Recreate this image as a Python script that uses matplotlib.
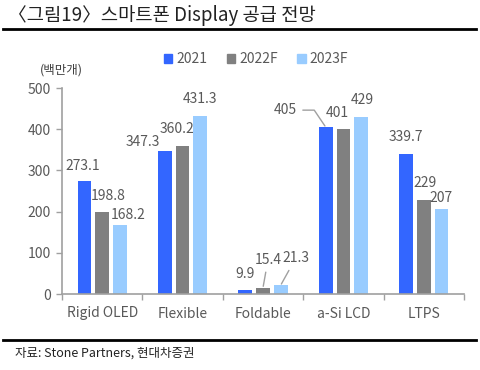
import numpy as np
import matplotlib.pyplot as plt
from matplotlib.patches import Patch
from matplotlib.lines import Line2D

plt.rcParams['font.family'] = ['Noto Sans CJK KR', 'DejaVu Sans']

categories = ['Rigid OLED', 'Flexible', 'Foldable', 'a-Si LCD', 'LTPS']
series_names = ['2021', '2022F', '2023F']
v2021 = [273.1, 347.3, 9.9, 405, 339.7]
v2022 = [198.8, 360.2, 15.4, 401, 229]
v2023 = [168.2, 431.3, 21.3, 429, 207]
label_2021 = ['273.1', '347.3', '9.9', '405', '339.7']
label_2022 = ['198.8', '360.2', '15.4', '401', '229']
label_2023 = ['168.2', '431.3', '21.3', '429', '207']

colors = ['#3366FF', '#808080', '#99CCFF']
axis_gray = '#A0A0A0'
text_gray = '#595959'

# label offsets in pixels (dx, dy) from bar top centre, as placed in the original
offsets = [
    [(-2, 15), (-22, 9), (0, 16), (-40, 17), (0, 17)],
    [(6, 16), (-6, 17), (5, 28), (-6, 16), (1, 17)],
    [(8, 10), (0, 17), (15, 27), (1, 17), (0, 11)],
]
leaders = {(0, 3): 'angle', (1, 2): 'line', (2, 2): 'line'}

fig = plt.figure(figsize=(4.81, 3.70), dpi=100)
ax = fig.add_axes([62 / 481, 1 - 294 / 370, (464 - 62) / 481, (294 - 88) / 370])

x = np.arange(len(categories))
w = 0.17
step = 0.22
all_vals = [v2021, v2022, v2023]
all_labels = [label_2021, label_2022, label_2023]
for i, (vals, labs) in enumerate(zip(all_vals, all_labels)):
    xs = x + (i - 1) * step
    ax.bar(xs, vals, width=w, color=colors[i], zorder=2)
    for j in range(len(vals)):
        dx, dy = offsets[i][j]
        kw = {}
        if (i, j) in leaders:
            if leaders[(i, j)] == 'angle':
                cs = 'angle,angleA=0,angleB=124,rad=0'
            else:
                cs = 'arc3'
            kw['arrowprops'] = dict(arrowstyle='-', color=axis_gray, lw=1,
                                    connectionstyle=cs, shrinkA=2, shrinkB=1)
        ax.annotate(labs[j], xy=(xs[j], vals[j]), xytext=(dx, dy),
                    textcoords='offset pixels', ha='center', va='center',
                    fontsize=10, color=text_gray, **kw)

ax.set_ylim(0, 500)
ax.set_xlim(-0.5, 4.5)
ax.set_yticks([0, 100, 200, 300, 400, 500])
ax.set_xticks(x)
ax.set_xticklabels(categories)
ax.set_xticks(np.arange(-0.5, 5, 1), minor=True)
ax.tick_params(axis='x', which='major', length=0, pad=9, labelsize=10, labelcolor=text_gray)
ax.tick_params(axis='x', which='minor', length=4, color=axis_gray, width=1)
ax.tick_params(axis='y', length=4, color=axis_gray, width=1, pad=4,
               labelsize=10, labelcolor=text_gray)
for s in ['top', 'right']:
    ax.spines[s].set_visible(False)
for s in ['left', 'bottom']:
    ax.spines[s].set_color(axis_gray)
    ax.spines[s].set_linewidth(1.2)

handles = [Patch(color=c) for c in colors]
fig.legend(handles, series_names, loc='center', bbox_to_anchor=(256 / 481, 1 - 59 / 370),
           ncol=3, frameon=False, fontsize=10, handlelength=0.6, handleheight=0.6,
           handletextpad=0.3, columnspacing=1.4, labelcolor=text_gray)

fig.text(61 / 481, 1 - 70 / 370, '(백만개)', ha='center', va='center', fontsize=9, color='#404040')

fig.text(8 / 481, 1 - 16 / 370, '〈그림19〉스마트폰 Display 공급 전망', ha='left', va='center',
         fontsize=13.5, color='#222222')
fig.add_artist(Line2D([3 / 481, 476 / 481], [1 - 29 / 370, 1 - 29 / 370], color='black', lw=2))
fig.add_artist(Line2D([3 / 481, 476 / 481], [1 - 340 / 370, 1 - 340 / 370], color='black', lw=2))
fig.text(15 / 481, 1 - 353 / 370, '자료: Stone Partners, 현대차증권', ha='left', va='center',
         fontsize=9, color='#222222')

fig.savefig('out.png', dpi=100)
